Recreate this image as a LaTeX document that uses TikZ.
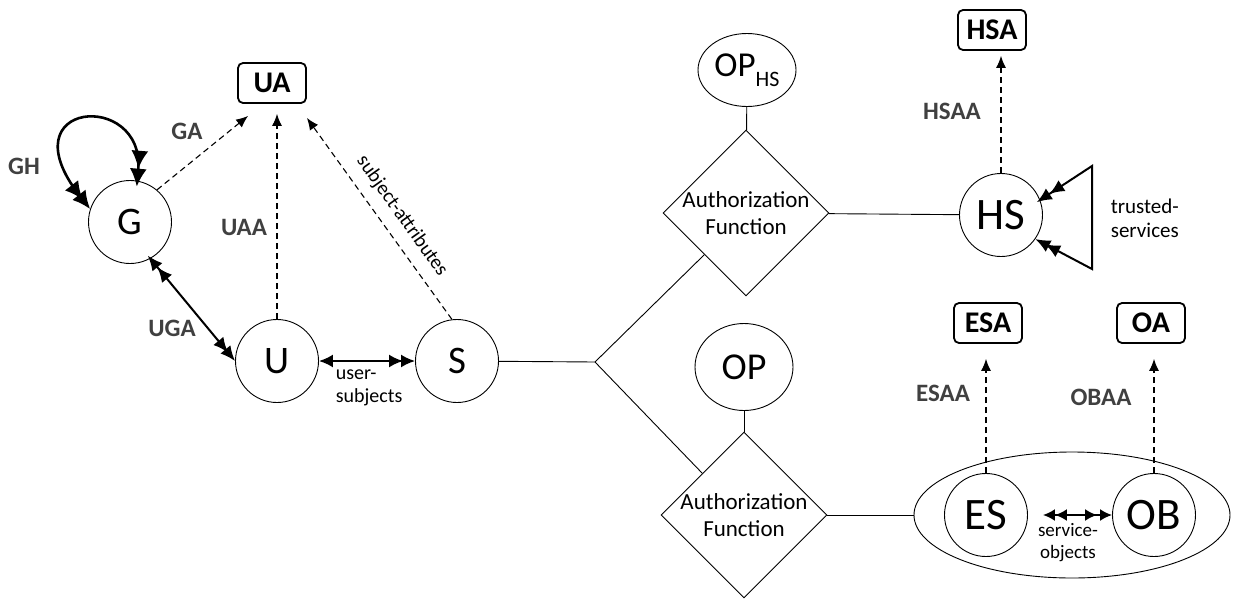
\documentclass[tikz,border=0pt]{standalone}
\usepackage{fontspec}
\setmainfont{Carlito}
\usepackage{tikz}
\usetikzlibrary{arrows.meta,%
                shapes.geometric}

\begin{document}
\begin{tikzpicture}
  [x=1pt,y=-1pt,line width=0.9pt,
   ent/.style={draw,circle,minimum size=83pt,inner sep=0pt,font=\fontsize{39}{39}\selectfont},
   big/.style={ent,font=\fontsize{45}{45}\selectfont},
   opn/.style={draw,ellipse,minimum width=98pt,inner sep=0pt,font=\fontsize{38}{38}\selectfont},
   attr/.style={draw,rounded corners=5pt,line width=1.8pt,minimum width=68pt,minimum height=40pt,inner sep=0pt,font=\bfseries\fontsize{30}{30}\selectfont},
   auth/.style={draw,diamond,aspect=1,minimum width=166pt,minimum height=166pt,inner sep=-14pt,align=center,font=\fontsize{23}{27}\selectfont},
   lbl/.style={text=black!75,font=\bfseries\fontsize{25}{25}\selectfont},
   note/.style={font=\fontsize{20}{23}\selectfont},
   dsh/.style={dash pattern=on 6pt off 4pt,line width=1.1pt,-{Latex[length=12pt,width=10pt]}},
   rel/.style={line width=2pt},
   loopy/.style={{Latex[length=18pt,width=17pt,sep=-6pt]Latex[length=18pt,width=17pt]}-{Latex[length=18pt,width=17pt,sep=-6pt]Latex[length=18pt,width=17pt]}},
   both/.style={{Latex[length=15pt,width=13pt,sep=-4pt]Latex[length=15pt,width=13pt]}-{Latex[length=15pt,width=13pt,sep=-4pt]Latex[length=15pt,width=13pt]}},
   half/.style={{Latex[length=14pt,width=13pt]}-{Latex[length=14pt,width=13pt,sep=-2pt]Latex[length=14pt,width=13pt]}},
   pair/.style={{Latex[length=12pt,width=12pt,sep=15pt]Latex[length=12pt,width=12pt]}-{Latex[length=12pt,width=12pt,sep=3pt]Latex[length=12pt,width=12pt]}}]
  \useasboundingbox (0,0) rectangle (1235,603);

  \node[ent] (g) at (130,222) {G};
  \node[ent] (u) at (277,361) {U};
  \node[ent] (s) at (457,361) {S};
  \node[attr] (ua) at (272,83) {UA};
  \coordinate (fork) at (595,362);
  \node[auth] (afu) at (746,213) {Authorization\\Function};
  \node[auth] (afl) at (744,515) {Authorization\\Function};
  \node[opn,minimum height=73pt,font=\fontsize{35}{35}\selectfont] (ophs) at (747,70) {OP\raisebox{-.28em}{\fontsize{22}{22}\selectfont HS}};
  \node[opn,minimum height=87pt] (op) at (744,367) {OP};
  \node[big] (hs) at (1001,215) {HS};
  \node[attr] (hsa) at (992,30) {HSA};
  \coordinate (tst) at (1092,166);
  \coordinate (tsb) at (1092,269);
  \node[draw,ellipse,minimum width=316pt,minimum height=126pt] (svc) at (1072,515) {};
  \node[big] (es) at (986,515) {ES};
  \node[big] (ob) at (1154,515) {OB};
  \node[attr] (esa) at (988,323) {ESA};
  \node[attr] (oa) at (1151,323) {OA};

  \node[lbl] (lgh) at (24,166) {GH};
  \node[lbl] (lga) at (187,131) {GA};
  \node[lbl] (luaa) at (244,227) {UAA};
  \node[lbl] (luga) at (172,328) {UGA};
  \node[lbl] (lhsaa) at (952,111) {HSAA};
  \node[lbl] (lesaa) at (943,393) {ESAA};
  \node[lbl] (lobaa) at (1101,397) {OBAA};
  \node[note,align=left,anchor=west] (lus) at (332,388) {user-\\subjects};
  \node[note,align=center,font=\fontsize{19}{22}\selectfont] (lso) at (1068,543) {service-\\objects};
  \node[note,align=left,anchor=west,font=\fontsize{21}{24}\selectfont] (lts) at (1107,218) {trusted-\\services};
  \node[note,rotate=-54.6] (lsa) at (402,216) {subject-attributes};

  \foreach \from/\to in {s/fork,fork/afu.south west,fork/afl.north west,afu/hs,afl/svc,ophs/afu,op/afl}
    \draw (\from) -- (\to);

  \foreach \from/\to/\gap in {u.north/u.north |- ua.south/10pt,hs.north/hs.north |- hsa.south/5pt,es.north/es.north |- esa.south/15pt,ob.north/ob.north |- oa.south/15pt}
    \draw[dsh,shorten >=\gap] (\from) -- (\to);
  \draw[dsh] (g.50) -- ([xshift=11pt,yshift=-12pt]ua.south west);
  \draw[dsh] (s.97) -- ([yshift=-14pt]ua.south east);

  \draw[rel,line width=2.6pt,loopy] (g.80) .. controls (145,90) and (5,100) .. (g.162);
  \draw[rel,both] (g.-61) -- (u.west);
  \draw[rel,half] (u) -- (s);
  \draw[rel,both] (hs.21) -- (tst) -- (tsb) -- (hs.-35);
  \draw[rel,pair] (es) -- (ob);

\end{tikzpicture}
\end{document}
